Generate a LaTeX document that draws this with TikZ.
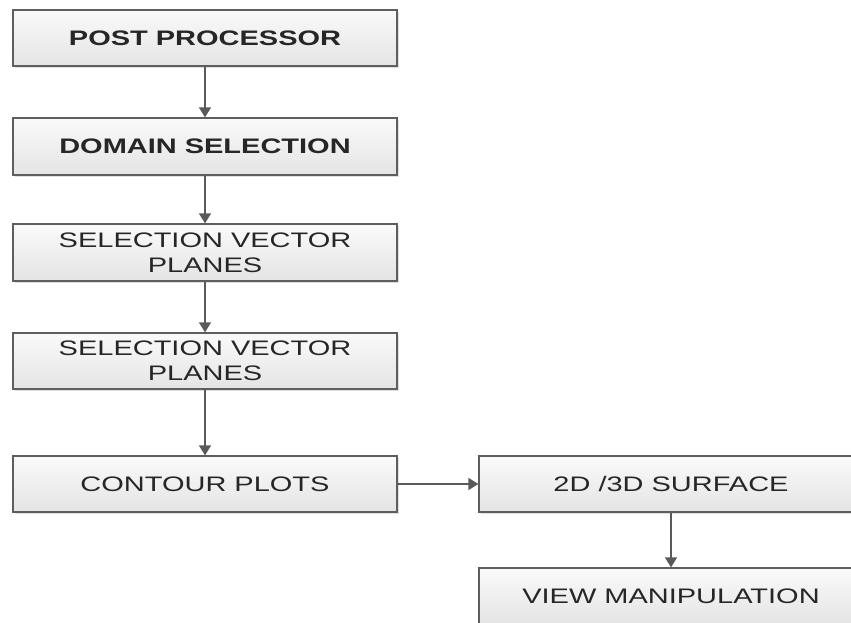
\documentclass[tikz,border=0pt]{standalone}
\usepackage{fontspec}
\newfontfamily\boxfont[FakeStretch=1.38]{Liberation Sans}
\usetikzlibrary{arrows.meta,shadows}
\definecolor{edgegray}{HTML}{5E5E5E}
\definecolor{linegray}{HTML}{5A5A5A}
\definecolor{topfill}{HTML}{FAFAFA}
\definecolor{botfill}{HTML}{E4E4E4}
\tikzset{
  flowbox/.style={draw=edgegray, line width=1.3pt, rectangle,
    top color=topfill, bottom color=botfill,
    minimum width=384pt, minimum height=56pt, inner sep=0pt,
    align=center, font=\boxfont\fontsize{21}{25}\selectfont, text=black!85,
    drop shadow={shadow xshift=2pt, shadow yshift=-2pt, opacity=0.25, fill=gray}},
  flowarrow/.style={draw=linegray, line width=1.4pt,
    -{Triangle[width=12pt,length=10pt]}}
}
\begin{document}
\begin{tikzpicture}[x=1pt,y=-1pt]
\useasboundingbox (0,0) rectangle (851,623);
\clip (0,0) rectangle (851,623);
\fill[white] (0,0) rectangle (851,623);
\node[flowbox] (post) at (205,38) {\bfseries POST PROCESSOR};
\node[flowbox, minimum height=57pt] (domain) at (205,146.5) {\bfseries DOMAIN SELECTION};
\node[flowbox, minimum height=57pt] (vec1) at (205,252.5) {SELECTION VECTOR\\PLANES};
\node[flowbox] (vec2) at (205,361) {SELECTION VECTOR\\PLANES};
\node[flowbox] (contour) at (205,484) {CONTOUR PLOTS};
\node[flowbox] (surface) at (671,484) {2D /3D SURFACE};
\node[flowbox] (view) at (671,596) {VIEW MANIPULATION};
\draw[flowarrow] (post) -- (domain);
\draw[flowarrow] (domain) -- (vec1);
\draw[flowarrow] (vec1) -- (vec2);
\draw[flowarrow] (vec2) -- (contour);
\draw[flowarrow] (contour) -- (surface);
\draw[flowarrow] (surface) -- (view);
\end{tikzpicture}
\end{document}
